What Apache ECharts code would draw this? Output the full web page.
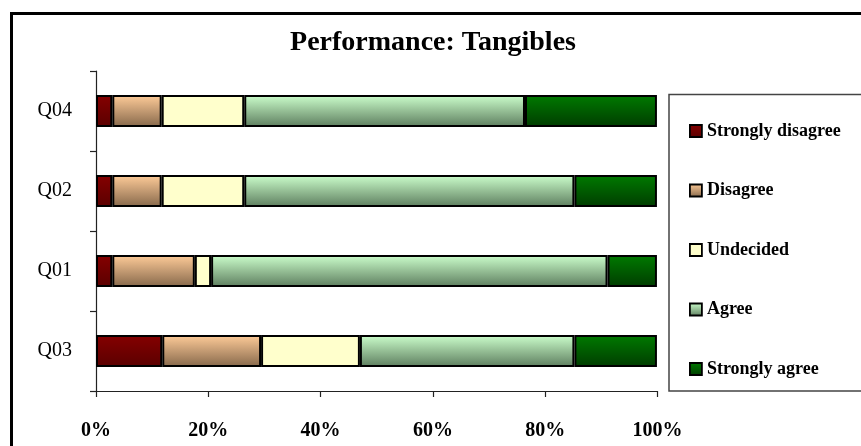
<!DOCTYPE html>
<html>
<head>
<meta charset="utf-8">
<title>Performance: Tangibles</title>
<script src="https://cdn.jsdelivr.net/npm/echarts@6/dist/echarts.min.js"></script>
<style>
  html, body { margin: 0; padding: 0; background: #ffffff; }
  #chart { width: 861px; height: 446px; }
</style>
</head>
<body>
<div id="chart"></div>
<script>
// categories bottom -> top, values in percent of respondents
const categories = ['Q03', 'Q01', 'Q02', 'Q04']
const stronglyDisagree = [11.8, 2.9, 2.9, 2.9]
const disagree = [17.6, 14.7, 8.8, 8.8]
const undecided = [17.6, 2.9, 14.7, 14.7]
const agree = [38.2, 70.6, 58.8, 50.0]
const stronglyAgree = [14.7, 8.8, 14.7, 23.5]
const xTicks = [0, 20, 40, 60, 80, 100]

const serif = "'Liberation Serif', 'Times New Roman', serif"

const grad = (top, bottom) => new echarts.graphic.LinearGradient(0, 0, 0, 1, [
  { offset: 0, color: top },
  { offset: 1, color: bottom },
])

const seriesDefs = [
  { name: 'Strongly disagree', data: stronglyDisagree, color: grad('#850000', '#5a0000') },
  { name: 'Disagree', data: disagree, color: grad('#ffcc99', '#86684b') },
  { name: 'Undecided', data: undecided, color: '#ffffcc' },
  { name: 'Agree', data: agree, color: grad('#ccffcc', '#5d7d5e') },
  { name: 'Strongly agree', data: stronglyAgree, color: grad('#007a00', '#003c00') },
]

const chart = echarts.init(document.getElementById('chart'))

chart.setOption({
  animation: false,
  backgroundColor: '#ffffff',
  title: {
    text: 'Performance: Tangibles',
    left: 428,
    top: 24,
    textAlign: 'center',
    textStyle: {
      fontFamily: serif,
      fontSize: 28,
      fontWeight: 'bold',
      color: '#000',
    },
  },
  graphic: [
    {
      // outer chart frame
      type: 'rect',
      shape: { x: 11.5, y: 13.5, width: 900, height: 500 },
      style: { fill: 'none', stroke: '#000', lineWidth: 3 },
      silent: true,
    },
    {
      // legend box
      type: 'rect',
      shape: { x: 669, y: 94.5, width: 250, height: 296.5 },
      style: { fill: 'none', stroke: '#444', lineWidth: 1.5 },
      silent: true,
    },
  ],
  legend: {
    orient: 'vertical',
    left: 684,
    top: 117,
    itemWidth: 12,
    itemHeight: 12,
    itemGap: 41.5,
    icon: 'rect',
    itemStyle: { borderColor: '#000', borderWidth: 1.8 },
    textStyle: {
      fontFamily: serif,
      fontSize: 18,
      fontWeight: 'bold',
      color: '#000',
    },
    data: seriesDefs.map((s) => s.name),
  },
  grid: {
    left: 96,
    right: 203.5,
    top: 71,
    bottom: 55,
    containLabel: false,
  },
  xAxis: {
    type: 'value',
    min: 0,
    max: 100,
    interval: 20,
    axisLine: { show: true, lineStyle: { color: '#222', width: 1.2 } },
    axisTick: { show: true, length: 6, lineStyle: { color: '#222', width: 1.2 } },
    splitLine: { show: false },
    axisLabel: {
      margin: 30,
      fontFamily: serif,
      fontSize: 20,
      fontWeight: 'bold',
      color: '#000',
      formatter: (v) => (xTicks.includes(v) ? `${v}%` : ''),
    },
  },
  yAxis: {
    type: 'category',
    data: categories,
    axisLine: { show: true, lineStyle: { color: '#222', width: 1.2 } },
    axisTick: { show: true, length: 6, lineStyle: { color: '#222', width: 1.2 } },
    axisLabel: {
      margin: 24,
      fontFamily: serif,
      fontSize: 20,
      color: '#000',
    },
  },
  series: seriesDefs.map((s) => ({
    name: s.name,
    type: 'bar',
    stack: 'total',
    barWidth: 32,
    data: s.data,
    itemStyle: {
      color: s.color,
      borderColor: '#000',
      borderWidth: 2,
    },
  })),
})
</script>
</body>
</html>
